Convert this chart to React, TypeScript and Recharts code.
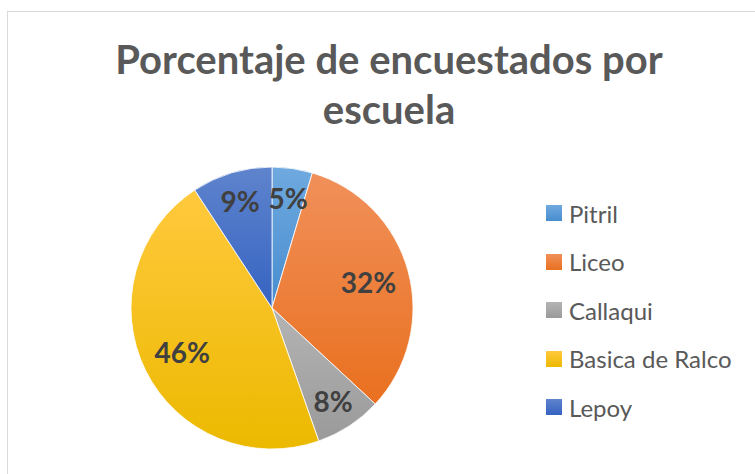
import { PieChart, Pie, Cell, Legend } from "recharts";

const schools = ["Pitril", "Liceo", "Callaqui", "Basica de Ralco", "Lepoy"];
const respondents = [3, 21, 5, 30, 6];

const TOP_COLORS = ["#6fa9df", "#f1905a", "#b4b4b4", "#ffc93d", "#5f84cd"];
const BOTTOM_COLORS = ["#478dcf", "#e9701f", "#9a9a9a", "#ecb900", "#3563c1"];

const data = schools.map((name, i) => ({ name, value: respondents[i] }));
const total = respondents.reduce((a, b) => a + b, 0);

const RADIAN = Math.PI / 180;

// small slices get their label pushed further out, like Excel's best fit
function renderLabel(props: any) {
  const { cx, cy, midAngle, outerRadius, value } = props;
  const share = value / total;
  const r = outerRadius * (share < 0.15 ? 0.79 : 0.71);
  const x = cx + r * Math.cos(-midAngle * RADIAN);
  const y = cy + r * Math.sin(-midAngle * RADIAN);
  return (
    <text
      x={x}
      y={y}
      textAnchor="middle"
      dominantBaseline="central"
      fill="#404040"
      fontSize={28}
      fontWeight={700}
      fontFamily="Lato, sans-serif"
    >
      {Math.round(share * 100)}%
    </text>
  );
}

function renderLegend() {
  return (
    <ul style={{ listStyle: "none", margin: 0, padding: 0 }}>
      {schools.map((name, i) => (
        <li
          key={name}
          style={{ display: "flex", alignItems: "center", height: 48.5 }}
        >
          <span
            style={{
              display: "inline-block",
              width: 16,
              height: 16,
              marginRight: 7,
              background: `linear-gradient(${TOP_COLORS[i]}, ${BOTTOM_COLORS[i]})`,
            }}
          />
          <span style={{ fontSize: 24, color: "#595959", fontFamily: "Lato, sans-serif" }}>
            {name}
          </span>
        </li>
      ))}
    </ul>
  );
}

export default function App() {
  return (
    <div
      style={{
        position: "absolute",
        left: 0,
        top: 0,
        width: 755,
        height: 474,
        overflow: "hidden",
        background: "#fff",
      }}
    >
      <div
        style={{
          position: "absolute",
          left: 7,
          top: 11,
          width: 800,
          height: 500,
          border: "1px solid #d9d9d9",
        }}
      />
      <div
        style={{
          position: "absolute",
          left: 89,
          width: 600,
          top: 34,
          textAlign: "center",
          fontFamily: "Lato, sans-serif",
          fontWeight: 700,
          fontSize: 40,
          lineHeight: "50px",
          color: "#595959",
        }}
      >
        Porcentaje de encuestados por
        <br />
        escuela
      </div>
      <div style={{ position: "absolute", left: 0, top: 0 }}>
        <PieChart
          width={755}
          height={474}
          margin={{ top: 0, right: 0, bottom: 0, left: 0 }}
        >
          <defs>
            {schools.map((name, i) => (
              <linearGradient key={name} id={`grad${i}`} x1="0" y1="0" x2="0" y2="1">
                <stop offset="0%" stopColor={TOP_COLORS[i]} />
                <stop offset="100%" stopColor={BOTTOM_COLORS[i]} />
              </linearGradient>
            ))}
          </defs>
          <Pie
            data={data}
            dataKey="value"
            nameKey="name"
            cx={272}
            cy={308}
            outerRadius={141}
            startAngle={90}
            endAngle={-270}
            stroke="#ffffff"
            strokeWidth={0.8}
            label={renderLabel}
            labelLine={false}
            isAnimationActive={false}
          >
            {data.map((_entry, index) => (
              <Cell key={index} fill={`url(#grad${index})`} />
            ))}
          </Pie>
          <Legend
            content={renderLegend}
            wrapperStyle={{ position: "absolute", left: 546, top: 189, width: 200 }}
          />
        </PieChart>
      </div>
    </div>
  );
}
